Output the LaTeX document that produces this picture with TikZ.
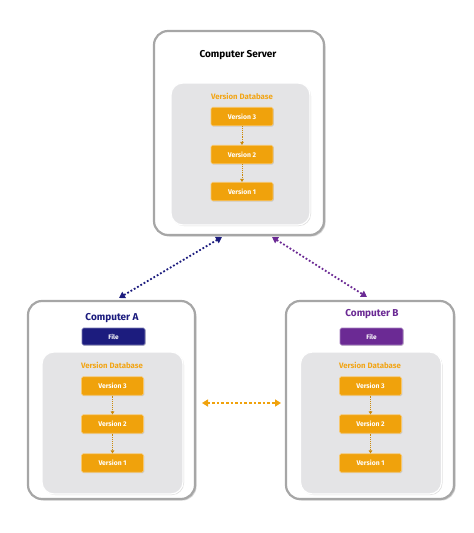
\documentclass[tikz,border=0pt]{standalone}
\usepackage{fontspec}
\setmainfont{Fira Sans}
\usetikzlibrary{shadows,arrows.meta}
\definecolor{vorange}{HTML}{F0A20C}
\definecolor{vborder}{HTML}{F7C870}
\definecolor{innerfill}{HTML}{E4E4E6}
\definecolor{outerborder}{HTML}{A6A6A6}
\definecolor{navyc}{HTML}{1C1C7E}
\definecolor{purplec}{HTML}{6B2A94}
\definecolor{dbtext}{HTML}{F2A516}
\tikzset{
  outerbox/.style={draw=outerborder, line width=2.2pt, fill=white, rounded corners=14pt,
    drop shadow={shadow xshift=1.5pt, shadow yshift=-1.5pt, fill=black!35}},
  innerbox/.style={draw=white, line width=1.2pt, fill=innerfill, rounded corners=12pt,
    drop shadow={shadow xshift=1pt, shadow yshift=-1pt, fill=black!25}},
  verbox/.style={draw=vborder, line width=0.6pt, fill=vorange, rounded corners=1.5pt,
    minimum width=62pt, minimum height=18.5pt,
    inner sep=0pt, font=\fontsize{6.8}{8}\selectfont\bfseries, text=white,
    drop shadow={shadow xshift=0.8pt, shadow yshift=-0.8pt, fill=black!30}},
  filebox/.style={draw=#1!60, line width=0.6pt, fill=#1, rounded corners=1.5pt,
    minimum width=63pt, minimum height=17pt,
    inner sep=0pt, font=\fontsize{6.5}{8}\selectfont\bfseries, text=white,
    drop shadow={shadow xshift=0.8pt, shadow yshift=-0.8pt, fill=black!30}},
  titletext/.style={font=\fontsize{10}{12}\selectfont\bfseries},
  dbtitle/.style={font=\fontsize{7.8}{9}\selectfont\bfseries, text=dbtext},
  varrow/.style={draw=vorange!85!black, densely dotted, line width=0.9pt, -{Triangle[length=3pt,width=3.5pt]}},
  netarrow/.style={draw=#1, dotted, line width=1.8pt, {Triangle[length=6pt,width=7pt]}-{Triangle[length=6pt,width=7pt]}},
}
\begin{document}
\begin{tikzpicture}[x=1pt,y=-1pt]
\useasboundingbox (0,0) rectangle (474,533);
% Server
\node[outerbox, minimum width=170pt, minimum height=204pt] (srv) at (239,133) {};
\node[innerbox, minimum width=139pt, minimum height=142pt] (srvdb) at (240.5,154) {};
\node[titletext] (srvt) at (238,55) {Computer Server};
\node[dbtitle] (srvdbt) at (242,96) {Version Database};
\node[verbox] (s3) at (242,116.5) {Version 3};
\node[verbox] (s2) at (242,154.5) {Version 2};
\node[verbox] (s1) at (242,191.5) {Version 1};
\draw[varrow] (s3) -- (s2);
\draw[varrow] (s2) -- (s1);
% Computer A
\node[outerbox, minimum width=167pt, minimum height=198pt] (ca) at (111.5,400) {};
\node[innerbox, minimum width=141pt, minimum height=142pt] (cadb) at (112.5,423) {};
\node[titletext, text=navyc] (cat) at (112,318) {Computer A};
\node[filebox=navyc] (caf) at (113.5,336.5) {File};
\node[dbtitle] (cadbt) at (112,365) {Version Database};
\node[verbox] (a3) at (112.5,386) {Version 3};
\node[verbox] (a2) at (112.5,424) {Version 2};
\node[verbox] (a1) at (112.5,463) {Version 1};
\draw[varrow] (a3) -- (a2);
\draw[varrow] (a2) -- (a1);
% Computer B
\node[outerbox, minimum width=168pt, minimum height=198pt] (cb) at (370,400) {};
\node[innerbox, minimum width=141pt, minimum height=142pt] (cbdb) at (371,423) {};
\node[titletext, text=purplec] (cbt) at (372,314) {Computer B};
\node[filebox=purplec] (cbf) at (371.5,336.5) {File};
\node[dbtitle] (cbdbt) at (370,365) {Version Database};
\node[verbox] (b3) at (370.5,386) {Version 3};
\node[verbox] (b2) at (370.5,424) {Version 2};
\node[verbox] (b1) at (370.5,463) {Version 1};
\draw[varrow] (b3) -- (b2);
\draw[varrow] (b2) -- (b1);
% network arrows
\coordinate (sa1) at (222,237);
\coordinate (sa2) at (119,298);
\coordinate (sb1) at (272,237);
\coordinate (sb2) at (367,297);
\coordinate (ab1) at (202,403);
\coordinate (ab2) at (281,403);
\draw[netarrow=navyc] (sa1) -- (sa2);
\draw[netarrow=purplec] (sb1) -- (sb2);
\draw[netarrow=vorange, line width=2.6pt] (ab1) -- (ab2);
\end{tikzpicture}
\end{document}
